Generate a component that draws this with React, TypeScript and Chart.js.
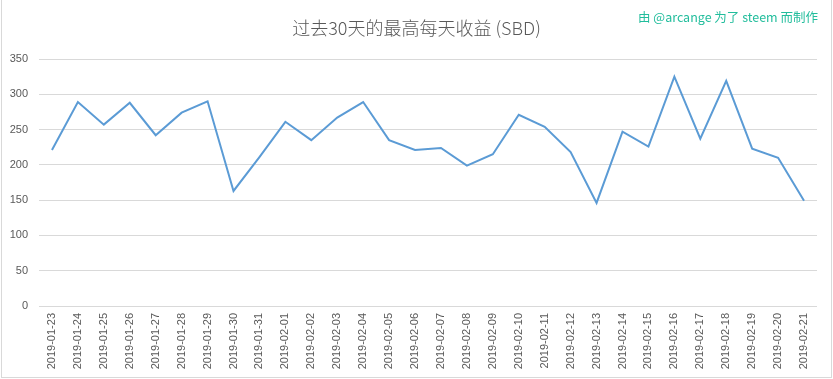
import React, { useEffect, useRef } from "react";
import { Chart, registerables } from "chart.js";

Chart.register(...registerables);

const dates: string[] = [
  "2019-01-23", "2019-01-24", "2019-01-25", "2019-01-26", "2019-01-27", "2019-01-28",
  "2019-01-29", "2019-01-30", "2019-01-31", "2019-02-01", "2019-02-02", "2019-02-03",
  "2019-02-04", "2019-02-05", "2019-02-06", "2019-02-07", "2019-02-08", "2019-02-09",
  "2019-02-10", "2019-02-11", "2019-02-12", "2019-02-13", "2019-02-14", "2019-02-15",
  "2019-02-16", "2019-02-17", "2019-02-18", "2019-02-19", "2019-02-20", "2019-02-21",
];

const maxDailyPayout: number[] = [
  221, 289, 257, 288, 242, 274, 290, 163, 211, 261, 235, 267, 289, 235, 221,
  224, 199, 215, 271, 254, 218, 146, 247, 226, 325, 237, 319, 223, 210, 149,
];

const yMin = 0;
const yMax = 350;
const yStep = 50;

const titleText = "过去30天的最高每天收益 (SBD)";
const creditText = "由 @arcange 为了 steem 而制作";

const W = 833;
const H = 379;

const textPlugin = {
  id: "customTexts",
  afterDraw(chart: any) {
    const ctx = chart.ctx as CanvasRenderingContext2D;
    ctx.save();
    ctx.textBaseline = "middle";
    ctx.textAlign = "center";
    ctx.fillStyle = "#595959";
    ctx.font = '300 18px "Noto Sans CJK SC", "Microsoft YaHei", sans-serif';
    ctx.fillText(titleText, W / 2, 28);
    ctx.textAlign = "right";
    ctx.fillStyle = "#22bd9c";
    ctx.font = '12.5px "Noto Sans CJK SC", "Open Sans", sans-serif';
    ctx.fillText(creditText, 818, 17.5);
    ctx.restore();
  },
};

export default function App() {
  const canvasRef = useRef<HTMLCanvasElement | null>(null);

  useEffect(() => {
    if (!canvasRef.current) return;
    const chart = new Chart(canvasRef.current, {
      type: "line",
      data: {
        labels: dates,
        datasets: [
          {
            label: titleText,
            data: maxDailyPayout,
            borderColor: "#5b9bd5",
            backgroundColor: "#5b9bd5",
            borderWidth: 2,
            pointRadius: 0,
            tension: 0,
            fill: false,
          },
        ],
      },
      options: {
        animation: false,
        responsive: false,
        devicePixelRatio: 1,
        layout: { padding: { top: 59, right: 16, left: 0, bottom: 0 } },
        plugins: {
          legend: { display: false },
          title: { display: false },
          tooltip: { enabled: false },
        },
        scales: {
          x: {
            type: "category",
            offset: true,
            grid: { display: false, drawTicks: false },
            border: { display: false },
            ticks: {
              autoSkip: false,
              minRotation: 90,
              maxRotation: 90,
              padding: 7,
              color: "#595959",
              font: { family: '"Liberation Sans", Arial, sans-serif', size: 11 },
            },
            afterFit(scale: any) {
              scale.height = 73;
            },
          },
          y: {
            min: yMin,
            max: yMax,
            grid: { color: "#d9d9d9", lineWidth: 1, drawTicks: false },
            border: { display: false },
            ticks: {
              stepSize: yStep,
              padding: 11,
              color: "#595959",
              font: { family: '"Liberation Sans", Arial, sans-serif', size: 11 },
            },
            afterFit(scale: any) {
              scale.width = 39;
            },
          },
        },
      },
      plugins: [textPlugin],
    });
    return () => chart.destroy();
  }, []);

  return (
    <div style={{ position: "fixed", left: 0, top: 0, width: W, height: H, background: "#fff" }}>
      <canvas ref={canvasRef} width={W} height={H} style={{ width: W, height: H, display: "block" }} />
      <div
        style={{
          position: "absolute",
          left: 1,
          top: 0,
          width: 829,
          height: 377,
          borderLeft: "1px solid #d9d9d9",
          borderRight: "1px solid #d9d9d9",
          borderBottom: "1px solid #d9d9d9",
          pointerEvents: "none",
        }}
      />
    </div>
  );
}
